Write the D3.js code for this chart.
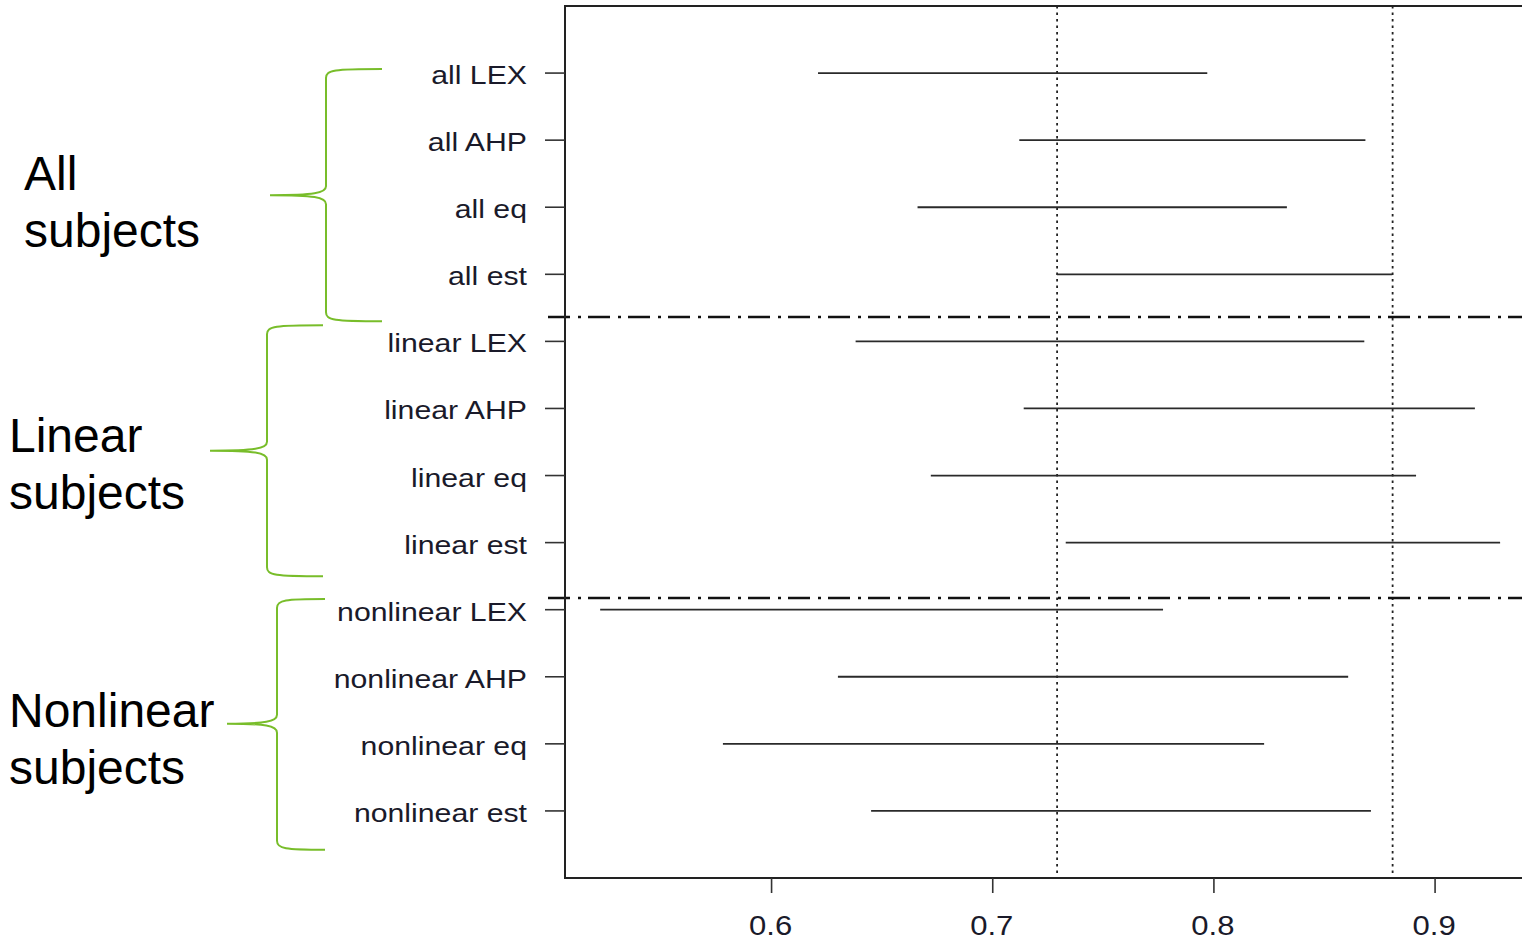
<!DOCTYPE html>
<html>
<head>
<meta charset="utf-8">
<script src="https://cdn.jsdelivr.net/npm/d3@7"></script>
<style>
  body { margin: 0; background: #fff; }
  svg { display: block; font-family: "Liberation Sans", Arial, sans-serif; }
</style>
</head>
<body>
<div id="chart"></div>
<script>
var svgWidth = 1522;
var svgHeight = 941;

// rows, top to bottom
var labels = ["all LEX", "all AHP", "all eq", "all est",
    "linear LEX", "linear AHP", "linear eq", "linear est",
    "nonlinear LEX", "nonlinear AHP", "nonlinear eq", "nonlinear est"];
var lower = [0.621, 0.712, 0.666, 0.729,
    0.638, 0.714, 0.672, 0.733,
    0.5225, 0.630, 0.578, 0.645];
var upper = [0.797, 0.8685, 0.833, 0.8806,
    0.868, 0.918, 0.8914, 0.9294,
    0.777, 0.8607, 0.8227, 0.871];
var refLines = [0.7291, 0.8808];
var separators = [4.636, 8.825];
var xTicks = [0.6, 0.7, 0.8, 0.9];
var groupNames = [["All", "subjects"], ["Linear", "subjects"], ["Nonlinear", "subjects"]];

var margin = {top: 6, left: 565, bottom: 63};
var plotBottom = svgHeight - margin.bottom;

var svg = d3.select("#chart").append("svg").attr("width", svgWidth).attr("height", svgHeight);

var x = d3.scaleLinear().domain([0.5066, 0.9393]).range([margin.left, svgWidth]);
var y = d3.scaleLinear().domain([0, 13]).range([margin.top, plotBottom]);

var rows = labels.map(function(d, i) { return {label: d, lo: lower[i], hi: upper[i], k: i + 1}; });

// reference dotted lines
svg.selectAll(".ref").data(refLines).enter().append("line")
    .attr("x1", d => x(d)).attr("x2", d => x(d))
    .attr("y1", margin.top).attr("y2", plotBottom)
    .attr("stroke", "#222").attr("stroke-width", 1.8).attr("stroke-dasharray", "2.5,4");

// interval segments
svg.selectAll(".seg").data(rows).enter().append("line")
    .attr("x1", d => x(d.lo)).attr("x2", d => x(d.hi))
    .attr("y1", d => y(d.k)).attr("y2", d => y(d.k))
    .attr("stroke", "#2a2a2a").attr("stroke-width", 1.8);

// group separators
svg.selectAll(".sep").data(separators).enter().append("line")
    .attr("x1", margin.left - 17).attr("x2", svgWidth)
    .attr("y1", d => y(d)).attr("y2", d => y(d))
    .attr("stroke", "#111").attr("stroke-width", 2.4).attr("stroke-dasharray", "22,8,3,7");

// box (right edge runs past the window)
svg.append("path")
    .attr("d", `M${svgWidth + 5},${margin.top}H${margin.left}V${plotBottom}H${svgWidth + 5}`)
    .attr("fill", "none").attr("stroke", "#222").attr("stroke-width", 2);

// y ticks and labels
svg.selectAll(".ytick").data(rows).enter().append("line")
    .attr("x1", margin.left - 20).attr("x2", margin.left)
    .attr("y1", d => y(d.k)).attr("y2", d => y(d.k))
    .attr("stroke", "#333").attr("stroke-width", 1.6);

svg.selectAll(".ylab").data(rows).enter().append("g")
    .attr("transform", d => `translate(${margin.left - 38},${y(d.k) + 11}) scale(1.21,1)`)
    .append("text").attr("text-anchor", "end").attr("font-size", "25px").attr("fill", "#1a1a2a")
    .text(d => d.label);

// x axis ticks and labels
svg.selectAll(".xtick").data(xTicks).enter().append("line")
    .attr("x1", d => x(d)).attr("x2", d => x(d))
    .attr("y1", plotBottom).attr("y2", plotBottom + 15)
    .attr("stroke", "#333").attr("stroke-width", 1.6);

svg.selectAll(".xlab").data(xTicks).enter().append("g")
    .attr("transform", d => `translate(${x(d) - 1},${plotBottom + 57}) scale(1.15,1)`)
    .append("text").attr("text-anchor", "middle").attr("font-size", "27px").attr("fill", "#1a1a2a")
    .text(d => d3.format(".1f")(d));

// curly braces and group names
var braceRows = [[0.94, 2.82, 4.70], [4.76, 6.63, 8.50], [8.84, 10.70, 12.58]];
var braceX = [[382, 326, 270], [323, 267, 210], [325, 277, 227]];
var nameX = [24, 9, 9];
var nameBase = [190, 452, 727];

function bracePath(xr, xv, xt, yt, ym, yb) {
    return `M${xr},${yt} C${xv + 8},${yt} ${xv},${yt + 1} ${xv},${yt + 9}` +
        ` L${xv},${ym - 9} C${xv},${ym - 2} ${xv - 12},${ym} ${xt},${ym}` +
        ` C${xv - 12},${ym} ${xv},${ym + 2} ${xv},${ym + 9}` +
        ` L${xv},${yb - 9} C${xv},${yb - 1} ${xv + 8},${yb} ${xr},${yb}`;
}

braceRows.forEach(function(b, i) {
    var bx = braceX[i];
    svg.append("path")
        .attr("d", bracePath(bx[0], bx[1], bx[2], y(b[0]), y(b[1]), y(b[2])))
        .attr("fill", "none").attr("stroke", "#78bd2a").attr("stroke-width", 2);

    var t = svg.append("text").attr("font-size", "48px").attr("fill", "#000");
    groupNames[i].forEach(function(line, j) {
        t.append("tspan").attr("x", nameX[i]).attr("y", nameBase[i] + j * 57).text(line);
    });
});
</script>
</body>
</html>
